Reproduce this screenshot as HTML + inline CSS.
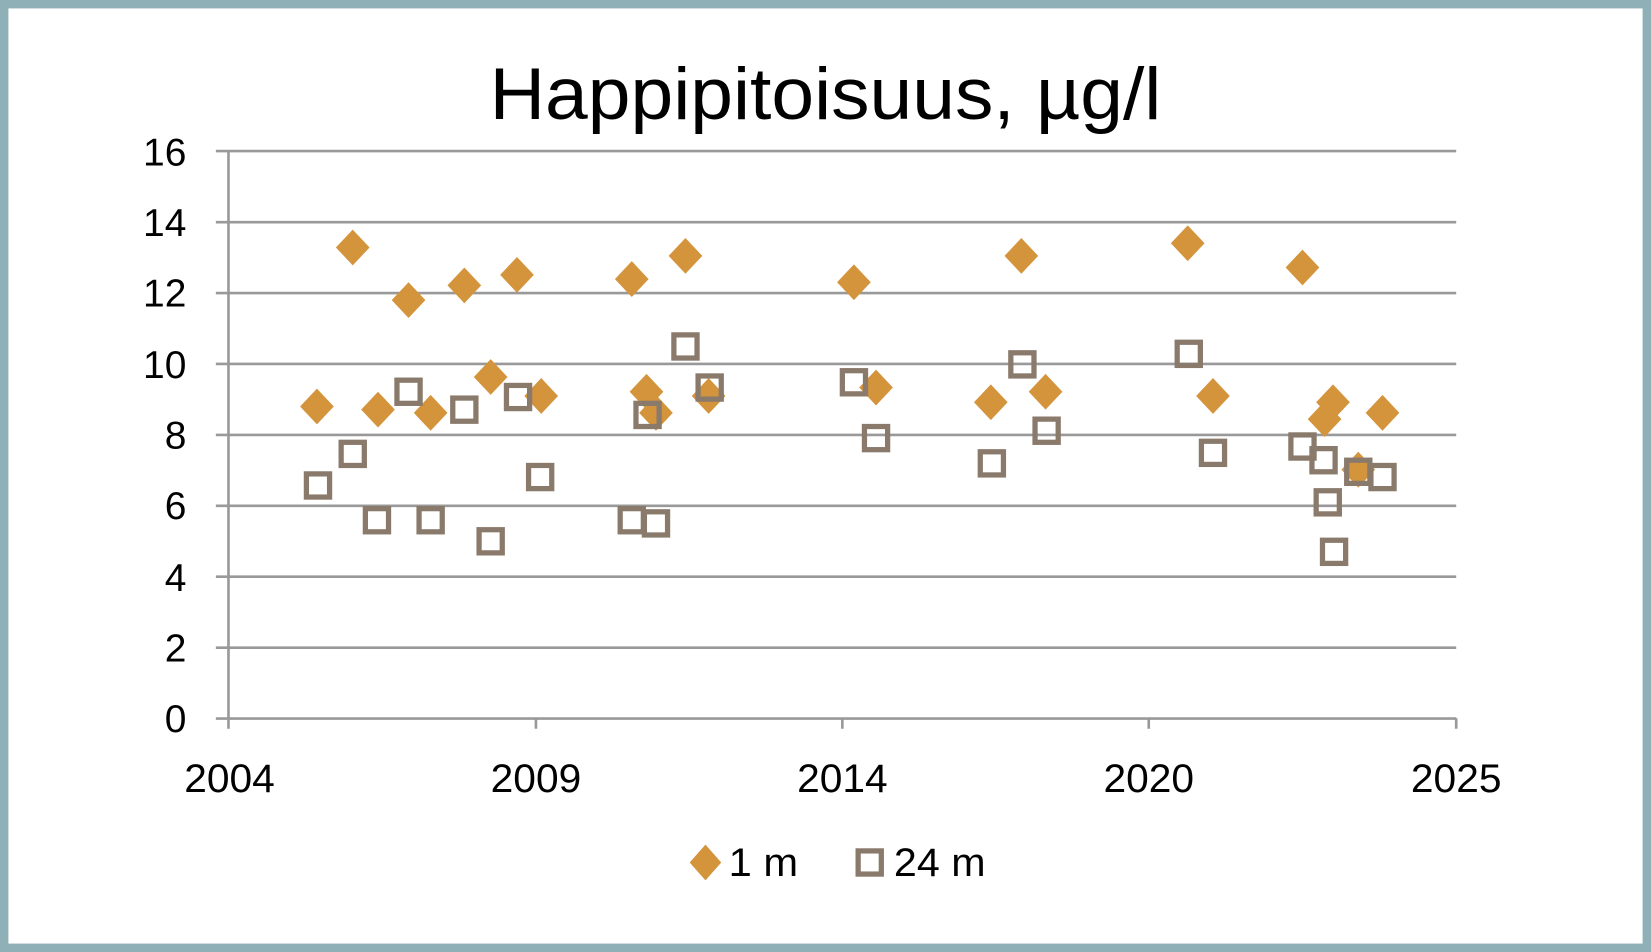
<!DOCTYPE html>
<html><head><meta charset="utf-8"><style>html,body{margin:0;padding:0;background:#fff}svg{display:block}</style></head>
<body>
<svg width="1651" height="952" viewBox="0 0 1568 904" preserveAspectRatio="none" xmlns="http://www.w3.org/2000/svg" font-family="'Liberation Sans', sans-serif">
<rect x="0" y="0" width="1568" height="904" fill="#fff"/>
<rect x="4" y="4" width="1560" height="896" fill="none" stroke="#8fb0b6" stroke-width="8"/>
<text x="465" y="113" font-size="70" textLength="638" lengthAdjust="spacingAndGlyphs" fill="#000">Happipitoisuus, µg/l</text>
<g stroke="#999" stroke-width="2.5">
<line x1="205" y1="143.5" x2="1383" y2="143.5"/>
<line x1="205" y1="211" x2="1383" y2="211"/>
<line x1="205" y1="278.3" x2="1383" y2="278.3"/>
<line x1="205" y1="345.6" x2="1383" y2="345.6"/>
<line x1="205" y1="413" x2="1383" y2="413"/>
<line x1="205" y1="480.3" x2="1383" y2="480.3"/>
<line x1="205" y1="547.6" x2="1383" y2="547.6"/>
<line x1="205" y1="615" x2="1383" y2="615"/>
<line x1="205" y1="682.3" x2="1383" y2="682.3"/>
<line x1="217" y1="143" x2="217" y2="692"/>
<line x1="509" y1="682" x2="509" y2="692"/>
<line x1="800" y1="682" x2="800" y2="692"/>
<line x1="1091" y1="682" x2="1091" y2="692"/>
<line x1="1383" y1="682" x2="1383" y2="692"/>
</g>
<g font-size="37" fill="#000" text-anchor="end">
<text x="177" y="157">16</text><text x="177" y="224">14</text><text x="177" y="291">12</text><text x="177" y="359">10</text><text x="177" y="426">8</text><text x="177" y="493">6</text><text x="177" y="561">4</text><text x="177" y="628">2</text><text x="177" y="695">0</text>
</g>
<g font-size="38" fill="#000">
<text x="175" y="752" textLength="86" lengthAdjust="spacingAndGlyphs">2004</text><text x="466" y="752" textLength="86" lengthAdjust="spacingAndGlyphs">2009</text><text x="757" y="752" textLength="86" lengthAdjust="spacingAndGlyphs">2014</text><text x="1048" y="752" textLength="86" lengthAdjust="spacingAndGlyphs">2020</text><text x="1340" y="752" textLength="86" lengthAdjust="spacingAndGlyphs">2025</text>
</g>
<g fill="#d4943c">
<path d="M301 369l16 17-16 17-16-17z"/><path d="M335 218l16 17-16 17-16-17z"/><path d="M359 372l16 17-16 17-16-17z"/><path d="M388 268l16 17-16 17-16-17z"/><path d="M409 375l16 17-16 17-16-17z"/><path d="M441 254l16 17-16 17-16-17z"/><path d="M466 341l16 17-16 17-16-17z"/><path d="M491 244l16 17-16 17-16-17z"/><path d="M514 359l16 17-16 17-16-17z"/><path d="M600 248l16 17-16 17-16-17z"/><path d="M614 355l16 17-16 17-16-17z"/><path d="M623 375l16 17-16 17-16-17z"/><path d="M651 226l16 17-16 17-16-17z"/><path d="M673 359l16 17-16 17-16-17z"/><path d="M811 251l16 17-16 17-16-17z"/><path d="M832 351l16 17-16 17-16-17z"/><path d="M941 365l16 17-16 17-16-17z"/><path d="M970 226l16 17-16 17-16-17z"/><path d="M993 355l16 17-16 17-16-17z"/><path d="M1128 214l16 17-16 17-16-17z"/><path d="M1152 359l16 17-16 17-16-17z"/><path d="M1237 237l16 17-16 17-16-17z"/><path d="M1258 381l16 17-16 17-16-17z"/><path d="M1266 365l16 17-16 17-16-17z"/><path d="M1290 429l16 17-16 17-16-17z"/><path d="M1313 375l16 17-16 17-16-17z"/>
</g>
<g fill="none" stroke="#8a7a6c" stroke-width="5">
<rect x="291" y="450" width="22" height="22"/><rect x="324" y="420" width="22" height="22"/><rect x="347" y="483" width="22" height="22"/><rect x="377" y="361" width="22" height="22"/><rect x="398" y="483" width="22" height="22"/><rect x="430" y="378" width="22" height="22"/><rect x="455" y="503" width="22" height="22"/><rect x="481" y="366" width="22" height="22"/><rect x="502" y="442" width="22" height="22"/><rect x="589" y="483" width="22" height="22"/><rect x="612" y="486" width="22" height="22"/><rect x="604" y="383" width="22" height="22"/><rect x="640" y="318" width="22" height="22"/><rect x="663" y="357" width="22" height="22"/><rect x="800" y="352" width="22" height="22"/><rect x="821" y="405" width="22" height="22"/><rect x="931" y="429" width="22" height="22"/><rect x="960" y="335" width="22" height="22"/><rect x="983" y="398" width="22" height="22"/><rect x="1118" y="325" width="22" height="22"/><rect x="1141" y="419" width="22" height="22"/><rect x="1226" y="413" width="22" height="22"/><rect x="1246" y="426" width="22" height="22"/><rect x="1250" y="466" width="22" height="22"/><rect x="1256" y="513" width="22" height="22"/><rect x="1279" y="437" width="22" height="22"/><rect x="1302" y="442" width="22" height="22"/>
</g>
<path d="M670 802l15 17-15 17-15-17z" fill="#d4943c"/>
<text x="692" y="832" font-size="38" textLength="66" lengthAdjust="spacingAndGlyphs" fill="#000">1 m</text>
<rect x="815" y="808" width="22" height="22" fill="none" stroke="#8a7a6c" stroke-width="5"/>
<text x="849" y="832" font-size="38" textLength="87" lengthAdjust="spacingAndGlyphs" fill="#000">24 m</text>
</svg>
</body></html>
